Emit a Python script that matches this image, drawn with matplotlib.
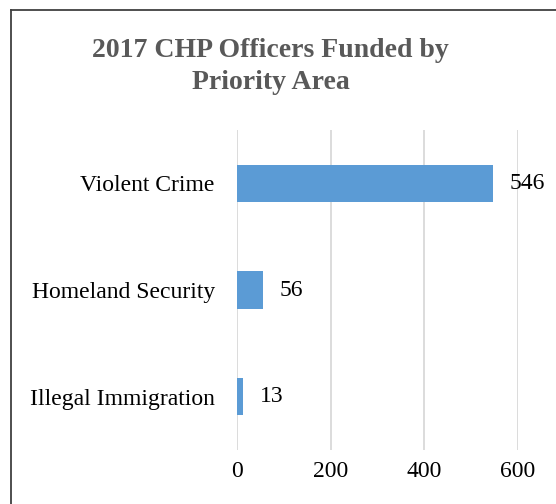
import matplotlib.pyplot as plt
from matplotlib.lines import Line2D

categories = ["Illegal Immigration", "Homeland Security", "Violent Crime"]
officers = [13, 56, 546]
x_ticks = [0, 200, 400, 600]

plt.rcParams['font.family'] = ['Liberation Serif', 'DejaVu Serif']

fig = plt.figure(figsize=(5.56, 5.04), dpi=100)
ax = fig.add_axes([0.4263, 0.1071, 0.5054, 0.6349])

bars = ax.barh(categories, officers, height=0.35, color='#5B9BD5', zorder=3)
for bar, v in zip(bars, officers):
    ax.text(bar.get_width() + 35, bar.get_y() + bar.get_height() / 2, str(v),
            va='center', ha='left', fontsize=17, color='#000000')

ax.set_xlim(0, 600)
ax.set_ylim(-0.5, 2.5)
ax.set_xticks(x_ticks)
ax.grid(axis='x', color='#D9D9D9', linewidth=1.3, zorder=0)
for s in ax.spines.values():
    s.set_visible(False)
ax.tick_params(axis='both', length=0, labelsize=17, colors='#000000')
ax.tick_params(axis='y', pad=16)
ax.tick_params(axis='x', pad=8)

fig.text(0.487, 0.868, "2017 CHP Officers Funded by\nPriority Area", ha='center', va='center',
         fontsize=20, fontweight='bold', color='#595959', linespacing=1.4)

# chart border (cropped on right and bottom)
fig.add_artist(Line2D([0.0198, 0.0198], [0, 0.98], transform=fig.transFigure, color='#404040', lw=1.3))
fig.add_artist(Line2D([0.0198, 1], [0.98, 0.98], transform=fig.transFigure, color='#404040', lw=1.3))

fig.savefig('out.png', dpi=100)
